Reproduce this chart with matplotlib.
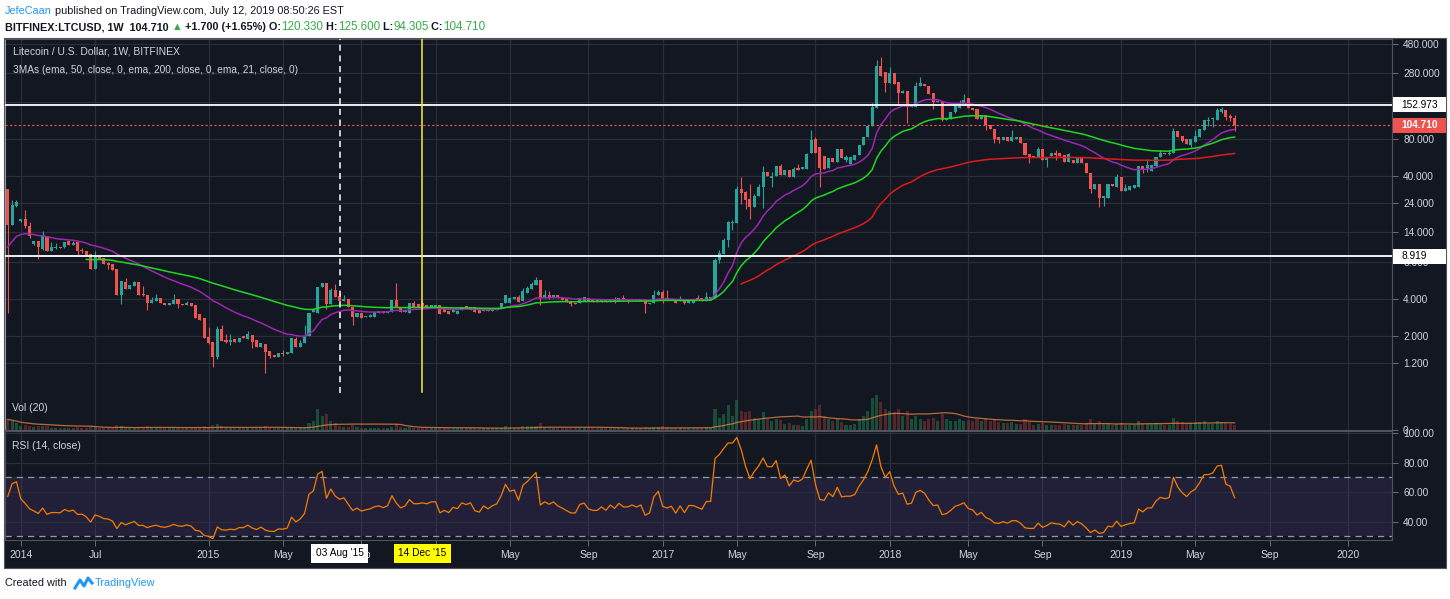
import numpy as np
import pandas as pd
import matplotlib
matplotlib.use('Agg')
import matplotlib.pyplot as plt
from matplotlib.patches import Rectangle
from matplotlib.lines import Line2D

# BITFINEX:LTCUSD weekly candles (first bar = Dec 2013, last = 8 Jul 2019)
opens = [31.5, 16.0, 22.9, 17.3, 17.9, 15.7, 11.2, 11.9, 10.2, 13.0,
         9.81, 10.5, 10.6, 10.6, 11.9, 11.0, 11.7, 10.0, 9.81, 9.27,
         7.03, 8.93, 8.59, 7.84, 7.69, 7.03, 4.30, 5.49, 4.81, 5.09,
         5.49, 4.35, 4.30, 3.70, 3.85, 4.06, 3.70, 3.56, 3.63, 4.00,
         3.63, 3.56, 3.70, 3.56, 3.01, 2.79, 1.95, 1.78, 1.34, 2.27,
         1.85, 1.78, 1.88, 1.78, 1.99, 1.88, 2.03, 1.85, 1.62, 1.72,
         1.50, 1.39, 1.34, 1.45, 1.42, 1.45, 1.88, 1.62, 1.75, 1.99,
         3.13, 3.07, 5.01, 5.39, 3.63, 4.73, 4.22, 3.85, 4.00, 3.45,
         2.85, 3.07, 2.85, 2.85, 2.85, 3.07, 3.19, 3.07, 3.13, 3.92,
         3.45, 3.13, 3.07, 3.70, 3.63, 3.70, 3.56, 3.45, 3.45, 3.56,
         3.31, 3.19, 3.13, 3.01, 3.25, 3.50, 3.25, 3.45, 3.31, 3.19,
         3.31, 3.19, 3.25, 3.38, 3.70, 3.70, 3.99, 4.14, 3.85, 4.47,
         4.82, 5.19, 5.70, 4.06, 4.30, 4.06, 4.30, 4.14, 3.99, 3.77,
         3.70, 3.70, 3.85, 4.06, 3.99, 3.92, 3.77, 3.92, 3.77, 3.99,
         3.85, 4.06, 3.99, 3.92, 3.99, 3.85, 3.92, 3.63, 3.70, 4.30,
         4.55, 4.06, 3.92, 3.92, 3.85, 3.99, 3.70, 3.70, 4.06, 4.06,
         3.85, 3.92, 4.06, 8.30, 9.27, 12.1, 16.6, 16.6, 31.5, 29.8,
         26.1, 22.4, 27.6, 32.7, 43.3, 38.7, 40.2, 48.5, 41.0, 45.0,
         39.5, 46.7, 45.9, 45.9, 61.9, 80.6, 69.3, 58.5, 46.7, 56.3,
         52.3, 66.8, 54.3, 50.4, 54.3, 59.6, 72.0, 83.7, 102.9, 144.0,
         317.3, 283.5, 230.7, 278.2, 235.1, 191.1, 198.4, 146.8, 146.8, 218.0,
         226.3, 218.0, 191.1, 161.4, 164.4, 115.1, 117.1, 133.9, 144.0, 158.4,
         174.7, 144.0, 141.6, 117.1, 126.4, 104.7, 97.0, 83.7, 79.1, 83.7,
         77.6, 80.6, 83.7, 74.8, 60.7, 58.5, 57.4, 66.8, 54.3, 58.5,
         61.9, 61.9, 59.6, 52.3, 54.3, 51.3, 56.3, 51.3, 42.5, 31.5,
         34.6, 26.6, 26.6, 34.6, 32.7, 39.5, 30.3, 30.9, 32.1, 32.7,
         48.5, 46.7, 44.1, 48.5, 57.4, 61.9, 60.7, 61.9, 93.6, 85.3,
         80.6, 72.0, 76.2, 83.7, 95.4, 112.9, 117.1, 115.1, 133.9, 138.9,
         124.0, 120.33]

highs = [31.5, 25.6, 25.6, 17.9, 21.2, 17.0, 11.9, 11.9, 14.3, 13.0,
         11.7, 11.5, 10.6, 11.7, 11.9, 11.9, 11.7, 10.4, 9.81, 9.27,
         9.81, 8.93, 8.59, 7.98, 7.69, 7.03, 5.59, 5.93, 5.19, 5.59,
         5.49, 5.09, 4.30, 4.14, 4.38, 4.06, 3.70, 3.70, 4.38, 4.00,
         3.63, 3.85, 3.70, 3.56, 3.01, 2.79, 2.36, 1.78, 2.40, 2.45,
         2.07, 2.07, 1.88, 1.92, 1.99, 2.19, 2.03, 1.85, 1.75, 1.72,
         1.50, 1.39, 1.45, 1.53, 1.47, 1.92, 1.95, 1.85, 2.45, 3.07,
         3.31, 5.01, 5.39, 5.39, 4.91, 5.29, 4.55, 4.30, 4.00, 3.45,
         3.07, 3.07, 2.90, 3.01, 3.13, 3.19, 3.19, 3.19, 3.92, 5.39,
         3.45, 3.25, 3.70, 3.85, 3.63, 3.85, 3.56, 3.56, 3.56, 3.56,
         3.31, 3.19, 3.25, 3.19, 3.45, 3.50, 3.45, 3.45, 3.31, 3.31,
         3.31, 3.31, 3.38, 3.70, 4.30, 4.14, 4.14, 4.30, 4.91, 5.10,
         5.49, 6.03, 5.70, 4.73, 4.64, 4.30, 4.30, 4.14, 3.99, 3.77,
         3.70, 4.06, 4.14, 4.06, 3.99, 3.92, 3.92, 3.92, 3.99, 4.14,
         4.06, 4.30, 3.99, 3.99, 3.99, 3.99, 3.92, 3.70, 4.73, 4.73,
         4.73, 4.73, 3.99, 3.92, 4.22, 3.99, 3.99, 3.99, 4.30, 4.06,
         4.55, 4.14, 8.59, 10.0, 12.6, 17.3, 17.6, 33.3, 39.5, 30.3,
         34.6, 28.7, 34.6, 48.5, 43.3, 43.3, 48.5, 50.4, 45.0, 45.0,
         47.6, 50.4, 47.6, 61.9, 95.4, 83.7, 69.3, 58.5, 56.3, 56.3,
         66.8, 66.8, 59.6, 57.4, 59.6, 72.0, 83.7, 102.9, 158.4, 355.3,
         376.0, 283.5, 311.2, 278.2, 235.1, 202.2, 198.4, 152.5, 235.1, 257.9,
         226.3, 218.0, 191.1, 164.4, 164.4, 119.4, 133.9, 155.4, 167.6, 187.4,
         174.7, 144.0, 141.6, 126.4, 126.4, 104.7, 97.0, 83.7, 83.7, 83.7,
         95.4, 83.7, 83.7, 74.8, 60.7, 58.5, 69.3, 66.8, 57.4, 61.9,
         65.5, 61.9, 59.6, 61.9, 54.3, 56.3, 56.3, 51.3, 42.5, 34.6,
         34.6, 27.6, 34.6, 34.6, 41.7, 39.5, 34.6, 33.3, 33.9, 48.5,
         48.5, 55.3, 49.5, 57.4, 65.5, 61.9, 65.5, 99.1, 93.6, 85.3,
         80.6, 80.6, 95.4, 97.0, 115.1, 121.8, 121.8, 144.0, 146.8, 138.9,
         129.1, 125.6]

lows = [3.07, 16.0, 22.4, 16.9, 15.1, 12.5, 11.0, 8.43, 10.0, 9.81,
        9.81, 10.2, 10.5, 10.5, 11.0, 11.0, 9.10, 9.45, 8.93, 7.03,
        7.03, 8.43, 7.69, 7.03, 6.90, 4.30, 3.63, 4.81, 4.81, 5.09,
        4.30, 4.22, 3.25, 3.70, 3.85, 3.70, 3.56, 3.56, 3.63, 3.38,
        3.56, 3.56, 3.50, 2.79, 2.69, 1.92, 1.72, 1.11, 1.29, 1.82,
        1.75, 1.69, 1.78, 1.78, 1.92, 1.88, 1.58, 1.62, 1.62, 0.99,
        1.31, 1.34, 1.34, 1.36, 1.42, 1.45, 1.62, 1.62, 1.75, 1.99,
        3.13, 3.07, 5.01, 3.31, 3.63, 4.14, 3.85, 3.85, 3.45, 2.45,
        2.85, 2.79, 2.85, 2.85, 2.85, 3.07, 3.07, 3.07, 3.13, 3.45,
        3.13, 3.13, 3.07, 3.45, 3.45, 3.50, 3.45, 3.45, 3.45, 3.01,
        3.13, 3.01, 3.13, 3.01, 3.25, 3.38, 3.25, 3.13, 3.07, 3.19,
        3.19, 3.19, 3.25, 3.38, 3.70, 3.70, 3.99, 3.77, 3.85, 4.47,
        4.82, 5.19, 3.56, 4.06, 3.99, 4.06, 4.06, 3.92, 3.77, 3.50,
        3.63, 3.70, 3.85, 3.85, 3.77, 3.77, 3.77, 3.77, 3.77, 3.70,
        3.85, 3.92, 3.70, 3.92, 3.92, 3.85, 3.07, 3.63, 3.70, 4.30,
        3.70, 3.92, 3.92, 3.70, 3.85, 3.63, 3.70, 3.70, 3.92, 3.85,
        3.85, 3.92, 4.06, 7.84, 9.27, 10.6, 14.6, 16.6, 23.7, 21.6,
        17.9, 22.4, 27.6, 22.0, 40.2, 32.7, 40.2, 41.0, 41.0, 39.5,
        39.5, 45.0, 45.9, 45.9, 61.9, 61.9, 32.7, 45.9, 46.7, 52.3,
        52.3, 56.3, 52.3, 50.4, 54.3, 59.6, 72.0, 83.7, 102.9, 144.0,
        262.9, 194.7, 230.7, 226.3, 152.5, 191.1, 108.8, 146.8, 146.8, 218.0,
        218.0, 187.4, 141.6, 161.4, 112.9, 115.1, 117.1, 131.4, 144.0, 158.4,
        144.0, 138.9, 117.1, 117.1, 95.4, 97.0, 74.8, 74.8, 79.1, 77.6,
        77.6, 80.6, 74.8, 59.6, 51.3, 57.4, 57.4, 54.3, 47.6, 58.5,
        54.3, 58.5, 52.3, 52.3, 51.3, 51.3, 51.3, 42.5, 29.2, 31.5,
        22.4, 22.9, 26.6, 33.3, 32.7, 30.3, 30.3, 30.9, 32.1, 32.7,
        42.5, 43.3, 44.1, 48.5, 57.4, 60.7, 59.6, 61.9, 83.7, 76.2,
        73.3, 69.3, 76.2, 83.7, 95.4, 102.9, 101.0, 115.1, 131.4, 115.1,
        112.9, 94.305]

closes = [16.0, 23.3, 24.7, 17.9, 15.7, 13.0, 11.9, 10.6, 13.0, 9.81,
          10.6, 10.6, 10.5, 11.7, 11.0, 11.4, 9.81, 9.9, 8.93, 7.03,
          8.93, 8.43, 7.69, 7.55, 6.90, 4.30, 5.59, 4.81, 5.19, 5.49,
          4.30, 4.30, 3.70, 3.92, 4.06, 3.70, 3.56, 3.70, 3.92, 3.63,
          3.56, 3.70, 3.50, 2.79, 2.69, 1.92, 1.75, 1.34, 2.27, 1.82,
          1.78, 1.85, 1.78, 1.92, 1.92, 2.07, 1.78, 1.62, 1.75, 1.47,
          1.36, 1.34, 1.45, 1.43, 1.47, 1.92, 1.62, 1.75, 1.99, 3.07,
          3.31, 5.01, 5.39, 3.63, 4.73, 4.14, 3.85, 4.00, 3.45, 2.85,
          3.07, 2.79, 2.90, 2.96, 3.13, 3.19, 3.07, 3.19, 3.92, 3.45,
          3.13, 3.25, 3.70, 3.45, 3.45, 3.50, 3.45, 3.56, 3.56, 3.01,
          3.13, 3.01, 3.25, 3.19, 3.45, 3.38, 3.45, 3.13, 3.07, 3.31,
          3.19, 3.31, 3.38, 3.70, 4.30, 4.06, 4.14, 3.77, 4.64, 4.91,
          5.28, 5.70, 4.06, 4.30, 4.14, 4.30, 4.06, 3.92, 3.77, 3.63,
          3.63, 4.06, 4.14, 3.85, 3.77, 3.77, 3.92, 3.77, 3.99, 3.85,
          4.06, 3.92, 3.92, 3.99, 3.92, 3.99, 3.63, 3.70, 4.30, 4.55,
          3.99, 3.92, 3.99, 3.70, 3.99, 3.70, 3.99, 3.99, 3.92, 3.85,
          4.14, 4.14, 8.30, 9.45, 12.1, 16.9, 16.9, 31.5, 29.2, 25.6,
          22.4, 27.6, 32.7, 43.3, 40.2, 40.2, 48.5, 41.0, 45.0, 39.5,
          45.9, 45.0, 47.6, 60.7, 79.1, 61.9, 46.7, 45.9, 56.3, 52.3,
          66.8, 56.3, 57.4, 57.4, 59.6, 72.0, 83.7, 102.9, 146.8, 317.3,
          262.9, 230.7, 278.2, 226.3, 191.1, 198.4, 146.8, 152.5, 218.0, 230.7,
          218.0, 187.4, 161.4, 164.4, 115.1, 119.4, 133.9, 152.5, 158.4, 167.6,
          144.0, 138.9, 117.1, 126.4, 104.7, 97.0, 80.6, 79.1, 83.7, 77.6,
          83.7, 83.7, 74.8, 59.6, 57.4, 57.4, 66.8, 54.3, 57.4, 61.9,
          59.6, 58.5, 52.3, 60.7, 51.3, 56.3, 51.3, 42.5, 31.5, 34.6,
          26.6, 27.6, 34.6, 33.3, 39.5, 30.3, 32.1, 33.3, 33.9, 48.5,
          45.0, 49.5, 49.5, 57.4, 61.9, 60.7, 61.9, 93.6, 83.7, 77.6,
          73.3, 80.6, 85.3, 97.0, 115.1, 115.1, 119.4, 138.9, 141.6, 121.8,
          119.4, 104.71]

volumes = [30, 26, 20, 12, 14, 12, 8, 10, 12, 10,
           6, 5, 5, 6, 6, 5, 8, 5, 6, 9,
           8, 6, 6, 5, 6, 14, 12, 8, 6, 6,
           9, 6, 10, 6, 6, 6, 5, 5, 6, 6,
           5, 5, 5, 8, 7, 10, 9, 14, 16, 10,
           6, 7, 5, 5, 5, 6, 7, 6, 5, 10,
           7, 5, 5, 5, 5, 9, 7, 6, 8, 20,
           25, 60, 40, 45, 25, 20, 12, 8, 9, 14,
           8, 7, 5, 5, 6, 5, 5, 5, 9, 16,
           8, 6, 8, 6, 5, 5, 5, 5, 5, 8,
           6, 5, 5, 5, 5, 5, 5, 6, 5, 5,
           5, 5, 5, 7, 10, 7, 6, 7, 10, 10,
           11, 12, 20, 8, 7, 6, 6, 6, 6, 7,
           5, 6, 6, 5, 5, 5, 5, 5, 5, 5,
           5, 5, 5, 5, 5, 5, 8, 5, 9, 8,
           10, 8, 5, 6, 5, 6, 5, 5, 6, 5,
           8, 6, 60, 35, 45, 70, 40, 85, 55, 50,
           55, 35, 30, 50, 30, 25, 30, 28, 18, 20,
           15, 14, 12, 30, 55, 60, 70, 40, 30, 25,
           30, 22, 15, 15, 18, 30, 40, 55, 90, 100,
           80, 60, 55, 50, 60, 40, 55, 30, 40, 30,
           25, 30, 35, 25, 45, 30, 25, 25, 30, 25,
           28, 25, 30, 25, 35, 25, 30, 22, 20, 20,
           22, 18, 18, 30, 22, 15, 18, 20, 15, 15,
           14, 14, 16, 15, 14, 13, 14, 20, 30, 18,
           25, 18, 18, 14, 18, 20, 14, 14, 14, 25,
           18, 18, 16, 20, 18, 15, 15, 35, 25, 22,
           20, 20, 22, 22, 25, 18, 18, 25, 20, 20,
           18, 14]

# EMA lengths, the bar where each line first appears, and its value there
ema_lengths = [21, 50, 200]
ema_first_bar = [0, 18, 168]
ema_first_value = [10.6, 8.4, 5.3]
# RSI value at the left edge (history before the first visible bar is not shown)
rsi_first_value = 57

price_ticks = [1.2, 2, 4, 8, 14, 24, 40, 80, 160, 280, 480]
rsi_ticks = [40, 60, 80, 100]
month_starts = ['2014-01-01', '2014-07-01', '2015-01-01', '2015-05-01', '2015-09-01',
                '2016-01-01', '2016-05-01', '2016-09-01', '2017-01-01', '2017-05-01',
                '2017-09-01', '2018-01-01', '2018-05-01', '2018-09-01', '2019-01-01',
                '2019-05-01', '2019-09-01', '2020-01-01']
month_labels = ['2014', 'Jul', '2015', 'May', 'Sep', '2016', 'May', 'Sep', '2017', 'May',
                'Sep', '2018', 'May', 'Sep', '2019', 'May', 'Sep', '2020']
drawn_levels = [152.973, 8.919]
marker_dates = ['2015-08-03', '2015-12-14']
marker_labels = ["03 Aug '15", "14 Dec '15"]

# bars before July 2014 are irregular on this feed, weekly afterwards
dates = pd.date_range('2013-12-09', '2014-06-30', periods=20).append(
    pd.date_range('2014-07-07', periods=320, freq='W-MON'))

W, H = 1450, 599
BG = '#131722'
GRID = '#2a2e39'
TXT = '#d1d4dc'
UP = '#26a69a'
DOWN = '#ef5350'
plt.rcParams['font.family'] = ['Liberation Sans', 'DejaVu Sans']


def fx(px):
    return px / W


def fy(py):
    return 1 - py / H


def ema_from(values, length, start, seed):
    alpha = 2 / (length + 1)
    out = np.full(len(values), np.nan)
    out[start] = seed
    for i in range(start + 1, len(values)):
        out[i] = out[i - 1] + alpha * (values[i] - out[i - 1])
    return out


def wilder_rsi(values, length, first_value):
    d = np.diff(values)
    scale = np.abs(d[:length]).mean()
    g = scale * first_value / 100
    ls = scale * (1 - first_value / 100)
    out = [first_value]
    for step in d:
        g = (g * (length - 1) + max(step, 0)) / length
        ls = (ls * (length - 1) + max(-step, 0)) / length
        out.append(100 - 100 / (1 + g / ls))
    return np.array(out)


o = np.array(opens)
h = np.array(highs)
l = np.array(lows)
c = np.array(closes)
v = np.array(volumes, dtype=float)
x = np.arange(len(c))
up = c >= o
col = np.where(up, UP, DOWN)

rsi = wilder_rsi(c, 14, rsi_first_value)
vol_ma = pd.Series(v).rolling(20, min_periods=1).mean()

tick_pos = [int(np.searchsorted(dates, pd.Timestamp(d))) for d in month_starts]
marker_pos = [int(np.searchsorted(dates, pd.Timestamp(d))) for d in marker_dates]

fig = plt.figure(figsize=(W / 100, H / 100), dpi=100, facecolor='white')
fig.patches.append(Rectangle((fx(4), fy(568)), fx(1446) - fx(4), fy(38) - fy(568),
                             transform=fig.transFigure, facecolor=BG,
                             edgecolor='#50535e', lw=0.8, zorder=-10))

ax = fig.add_axes([fx(5), fy(430), fx(1392) - fx(5), fy(39) - fy(430)])
rax = fig.add_axes([fx(5), fy(540), fx(1392) - fx(5), fy(431) - fy(540)], sharex=ax)
vax = ax.twinx()
for a in (ax, rax):
    a.set_facecolor('none')
    for s in a.spines.values():
        s.set_color('#50535e')
        s.set_linewidth(0.8)
ax.spines['left'].set_color('#9598a1')

# --- price pane ---
ax.set_yscale('log')
ax.set_ylim(0.341, 527)
ax.set_xlim(-0.62, 317.05)
ax.minorticks_off()
for p in price_ticks:
    ax.axhline(p, color=GRID, lw=0.9, zorder=0)
for t in tick_pos:
    ax.axvline(t, color=GRID, lw=0.9, zorder=0)
    rax.axvline(t, color=GRID, lw=0.9, zorder=0)

lo_b = np.minimum(o, c)
hi_b = np.maximum(np.maximum(o, c), lo_b * 1.015)
ax.vlines(x, np.minimum(l, lo_b), np.maximum(h, hi_b), colors=col, lw=0.8, zorder=3)
ax.bar(x, hi_b - lo_b, bottom=lo_b, width=0.7, color=col, lw=0, zorder=4)

ema_colors = ['#9c27b0', '#1ed81e', '#e01b1b']
for n, b0, seed, ec in zip(ema_lengths, ema_first_bar, ema_first_value, ema_colors):
    ax.plot(x, ema_from(c, n, b0, seed), color=ec, lw=1.1, zorder=5)

for lvl in drawn_levels:
    ax.axhline(lvl, color='white', lw=1.3, zorder=6)
ax.axhline(c[-1], color=DOWN, lw=0.8, ls=(0, (2, 2)), zorder=6)
ax.axvline(marker_pos[0], ymin=0.094, ymax=1, color='white', lw=1.1, ls=(0, (4, 3)), zorder=6)
ax.axvline(marker_pos[1], ymin=0.096, ymax=1, color='#ffeb3b', lw=1.1, zorder=6)

ax.yaxis.tick_right()
ax.set_yticks(price_ticks)
ax.set_yticklabels([f'{p:.3f}' for p in price_ticks])
ax.tick_params(axis='y', which='both', left=False, right=True, labelleft=False, labelright=True,
               length=4, width=0.6, color='#787b86', labelcolor=TXT, labelsize=7.3, pad=4)
ax.tick_params(axis='x', which='both', length=0, labelbottom=False)

# volume overlay
vax.set_ylim(0, v.max() / 0.09)
vax.bar(x, v, width=0.7, color=np.where(up, '#1f7a4a', '#8a3434'), alpha=0.55, lw=0, zorder=2)
vax.plot(x, vol_ma, color='#e0803a', lw=0.9, alpha=0.8, zorder=3)
vax.set_yticks([0])
vax.set_yticklabels(['0'])
vax.tick_params(axis='y', length=4, width=0.6, color='#787b86', labelcolor=TXT,
                labelsize=7.3, pad=4)
for s in vax.spines.values():
    s.set_visible(False)

# --- RSI pane ---
rax.set_ylim(27.5, 101.4)
rax.axhspan(30, 70, color='#7e57c2', alpha=0.14, lw=0, zorder=0)
for r in rsi_ticks:
    rax.axhline(r, color=GRID, lw=0.9, zorder=0)
for r in (30, 70):
    rax.axhline(r, color='#9598a1', lw=0.9, ls=(0, (5, 4)), zorder=1)
rax.plot(x, rsi, color='#f57c00', lw=0.9, zorder=3)
rax.yaxis.tick_right()
rax.set_yticks(rsi_ticks)
rax.set_yticklabels([f'{r:.2f}' for r in rsi_ticks])
rax.tick_params(axis='y', length=4, width=0.6, color='#787b86', labelcolor=TXT,
                labelsize=7.3, pad=4)
rax.set_xticks(tick_pos)
rax.set_xticklabels(month_labels)
rax.tick_params(axis='x', length=4, width=0.6, color='#787b86', labelcolor=TXT,
                labelsize=7.5, pad=3)

# marker boxes on the time axis
for pos, lab, fc in zip(marker_pos, marker_labels, ['white', '#ffff00']):
    rax.text(pos, -0.12, lab, transform=rax.get_xaxis_transform(), ha='center',
             va='center', fontsize=7.3, color='black', zorder=10, clip_on=False,
             bbox=dict(boxstyle='square,pad=0.45', fc=fc, ec='none'))

# price boxes on the right axis
fig.canvas.draw()
for val, lab, fc, tc in [(drawn_levels[0], f'{drawn_levels[0]:.3f}', 'white', 'black'),
                         (c[-1], f'{c[-1]:.3f}', DOWN, 'white'),
                         (drawn_levels[1], f'{drawn_levels[1]:.3f}', 'white', 'black')]:
    ypix = ax.transData.transform((0, val))[1]
    fig.patches.append(Rectangle((fx(1393), (ypix - 7.5) / H), fx(1446) - fx(1393), 15 / H,
                                 transform=fig.transFigure, facecolor=fc, edgecolor='none',
                                 zorder=20))
    fig.text(fx(1401), ypix / H, lab, color=tc, fontsize=7.3, va='center', ha='left',
             zorder=21, fontweight='bold' if fc == DOWN else 'normal')

# legend texts inside the chart
fig.text(fx(13), fy(51), 'Litecoin / U.S. Dollar, 1W, BITFINEX', color=TXT, fontsize=7.5, va='center')
fig.text(fx(13), fy(70), '3MAs (ema, 50, close, 0, ema, 200, close, 0, ema, 21, close, 0)',
         color=TXT, fontsize=7.3, va='center')
fig.text(fx(12), fy(408), 'Vol (20)', color=TXT, fontsize=7.5, va='center')
fig.text(fx(12), fy(446), 'RSI (14, close)', color=TXT, fontsize=7.5, va='center')

# header and footer
renderer = fig.canvas.get_renderer()


def put_segments(x0, y, segs):
    xx = x0
    for s, color, weight, size in segs:
        t = fig.text(fx(xx), fy(y), s, color=color, fontweight=weight, fontsize=size,
                     va='center', ha='left')
        xx += t.get_window_extent(renderer=renderer).width


GREEN = '#3aaa4a'
INK = '#131722'
put_segments(5, 11, [('JefeCaan', '#2196f3', 'normal', 7.8),
                     (' published on TradingView.com, July 12, 2019 08:50:26 EST', INK, 'normal', 7.8)])
put_segments(5, 27, [('BITFINEX:LTCUSD, 1W  104.710 ', INK, 'bold', 7.8),
                     ('▲', GREEN, 'bold', 7.8),
                     (' +1.700 (+1.65%) O:', INK, 'bold', 7.8),
                     ('120.330', GREEN, 'normal', 8.4),
                     (' H:', INK, 'bold', 7.8),
                     ('125.600', GREEN, 'normal', 8.4),
                     (' L:', INK, 'bold', 7.8),
                     ('94.305', GREEN, 'normal', 8.4),
                     (' C:', INK, 'bold', 7.8),
                     ('104.710', GREEN, 'normal', 8.4)])

fig.text(fx(5), fy(583), 'Created with', color=INK, fontsize=7.8, va='center')
fig.lines.append(Line2D([fx(75), fx(80), fx(84), fx(88), fx(92)],
                        [fy(588), fy(580), fy(586), fy(578), fy(583)],
                        transform=fig.transFigure, color='#2196f3', lw=2.2))
fig.text(fx(95), fy(583), 'TradingView', color='#2196f3', fontsize=7.8, va='center')

fig.savefig('out.png', dpi=100, facecolor='white')
